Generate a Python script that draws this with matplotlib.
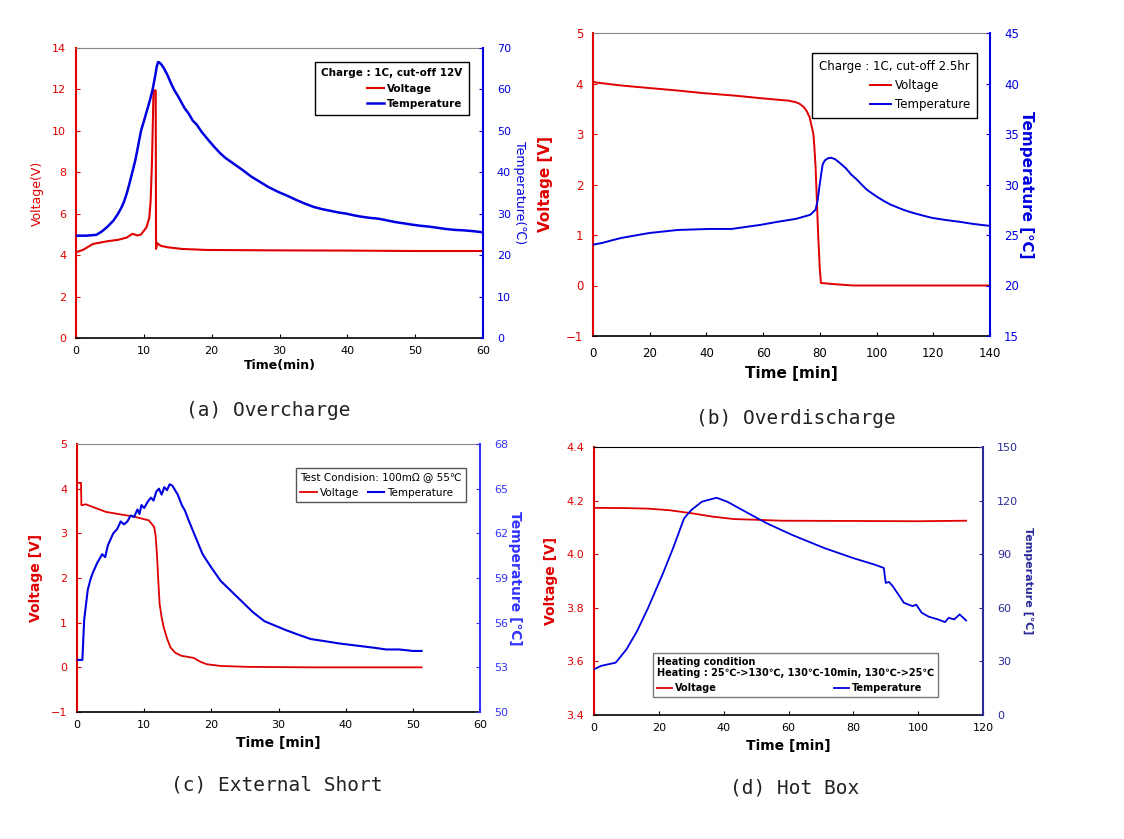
import matplotlib
matplotlib.use("Agg")
import matplotlib.pyplot as plt

# (a) Overcharge
t_a_volt = [0, 1, 2.5, 4.6, 6.2, 7.5, 8.3, 9.1, 9.6, 10.4, 10.8, 11.0, 11.2, 11.43, 11.75, 11.8, 11.95, 12.5, 13.5, 15.6, 19.3, 30, 40, 50, 60]
volt_a = [4.14, 4.25, 4.54, 4.67, 4.74, 4.85, 5.03, 4.95, 5.0, 5.35, 5.8, 6.6, 8.5, 11.95, 11.95, 4.3, 4.58, 4.45, 4.38, 4.3, 4.25, 4.23, 4.22, 4.2, 4.2]
t_a_temp = [0, 1.5, 3.0, 3.8, 4.6, 5.5, 6.2, 6.7, 7.1, 7.5, 7.9, 8.3, 8.7, 9.0, 9.3, 9.6, 10.0, 10.3, 10.6, 10.9, 11.3, 11.7, 11.9, 12.1, 12.3, 12.6, 13.0, 13.5, 14.0, 14.5, 15.1, 15.5, 16.0, 16.6, 17.2, 17.8, 18.5, 19.4, 20.4, 21.2, 22.0, 23.3, 24.6, 25.8, 27.0, 28.4, 29.9, 31.2, 32.5, 33.8, 35.1, 36.3, 37.5, 38.7, 39.9, 41.0, 42.0, 43.3, 44.6, 45.8, 47.0, 48.2, 49.4, 50.7, 52.0, 53.3, 54.6, 55.8, 57.0, 58.5, 60.0]
temp_a = [24.7, 24.7, 24.9, 25.7, 26.8, 28.3, 30.0, 31.5, 33.0, 35.0, 37.4, 40.0, 42.6, 45.0, 47.6, 50.1, 52.3, 54.0, 55.7, 57.4, 60.0, 63.5, 65.5, 66.6, 66.5, 66.0, 65.0, 63.4, 61.5, 59.8, 58.2, 57.0, 55.5, 54.2, 52.5, 51.5, 49.8, 48.0, 46.1, 44.7, 43.5, 42.0, 40.5, 39.0, 37.8, 36.4, 35.2, 34.3, 33.3, 32.4, 31.6, 31.1, 30.7, 30.3, 30.0, 29.6, 29.3, 29.0, 28.8, 28.4, 28.0, 27.7, 27.4, 27.1, 26.9, 26.6, 26.3, 26.1, 26.0, 25.8, 25.5]

# (b) Overdischarge
t_b_volt = [0, 1, 10, 19.9, 30, 38.8, 50, 59, 65, 69, 71.5, 72.8, 74.2, 75.3, 76.4, 77.2, 77.7, 78.0, 78.5, 79.0, 79.4, 80.0, 80.4, 84.2, 91.7, 110, 140]
volt_b = [4.04, 4.02, 3.96, 3.91, 3.86, 3.81, 3.76, 3.71, 3.68, 3.66, 3.63, 3.60, 3.54, 3.46, 3.33, 3.13, 3.0, 2.8, 2.34, 1.6, 1.01, 0.3, 0.05, 0.03, 0.0, 0.0, 0.0]
t_b_temp = [0, 3, 9.8, 19.9, 30, 41.3, 48.9, 59, 65, 71.6, 76.6, 78.5, 79.2, 79.8, 80.4, 81.0, 81.8, 82.9, 84.0, 85.4, 87.2, 89.2, 91.0, 93.0, 94.7, 96.5, 98.5, 100.6, 102.7, 105, 107.2, 109.4, 111.6, 114, 116.7, 119.5, 121.7, 124, 126.7, 129.5, 131.7, 134, 137, 140]
temp_b = [24.04, 24.2, 24.7, 25.2, 25.5, 25.6, 25.6, 26.0, 26.3, 26.6, 27.0, 27.5, 28.4, 29.7, 30.9, 32.0, 32.4, 32.6, 32.65, 32.5, 32.1, 31.6, 31.0, 30.5, 30.0, 29.5, 29.1, 28.7, 28.35, 28.0, 27.75, 27.5, 27.3, 27.1, 26.9, 26.7, 26.6, 26.5, 26.4, 26.3, 26.2, 26.1, 26.0, 25.9]

# (c) External Short
t_c_volt = [0, 0.6, 0.65, 1.3, 4.3, 8.6, 10.7, 11.5, 11.7, 11.9, 12.1, 12.3, 12.6, 12.9, 13.4, 13.9, 14.6, 15.5, 17.4, 18.3, 19.3, 21.4, 25.7, 35, 51.3]
volt_c = [4.13, 4.13, 3.63, 3.65, 3.48, 3.37, 3.29, 3.14, 2.95, 2.54, 1.95, 1.42, 1.12, 0.90, 0.65, 0.45, 0.33, 0.26, 0.21, 0.13, 0.07, 0.03, 0.01, 0.0, 0.0]
t_c_temp = [0, 0.8, 1.07, 1.6, 2.0, 2.4, 3.0, 3.75, 4.2, 4.6, 5.4, 6.0, 6.5, 7.0, 7.5, 8.0, 8.5, 9.0, 9.3, 9.6, 10.0, 10.5, 11.0, 11.4, 11.8, 12.2, 12.6, 13.0, 13.4, 13.8, 14.2, 14.6, 15.0, 15.6, 16.1, 16.6, 17.6, 18.7, 20.0, 21.4, 23.0, 24.6, 26.2, 27.9, 29.5, 31.1, 32.9, 34.8, 37.0, 39.1, 41.8, 44.5, 46.0, 48.0, 50.0, 51.3]
temp_c = [53.5, 53.5, 56.2, 58.2, 58.9, 59.4, 60.0, 60.6, 60.4, 61.2, 62.0, 62.3, 62.8, 62.6, 62.8, 63.2, 63.1, 63.6, 63.3, 63.9, 63.7, 64.1, 64.4, 64.2, 64.8, 65.0, 64.6, 65.1, 64.9, 65.3, 65.2, 64.9, 64.6, 63.9, 63.5, 62.9, 61.8, 60.6, 59.7, 58.8, 58.1, 57.4, 56.7, 56.1, 55.8, 55.5, 55.2, 54.9, 54.75, 54.6, 54.45, 54.3, 54.2, 54.2, 54.1, 54.1]

# (d) Hot Box
t_d_volt = [0, 10, 16.7, 23.3, 30, 36.7, 43.3, 51.1, 57.8, 80, 100, 114.8]
volt_d = [4.173, 4.172, 4.170, 4.164, 4.153, 4.140, 4.131, 4.128, 4.125, 4.124, 4.123, 4.125]
t_d_temp = [0, 2.2, 6.7, 10, 13.3, 16.7, 21.1, 24.4, 27.8, 30, 33.3, 37.8, 41.1, 46.7, 53.3, 61.1, 71.1, 80, 86.7, 89.4, 90, 91.0, 92.2, 93.9, 95.6, 98.3, 99.4, 101.1, 103.3, 106.1, 108.3, 109.4, 111.1, 112.8, 113.9, 114.8]
temp_d = [25.6, 27.5, 29.3, 36.7, 47, 60, 78.5, 93.4, 110.1, 114.7, 119.4, 121.6, 119.4, 113.8, 107.3, 100.8, 93.4, 87.8, 84.1, 82.3, 73.9, 74.5, 72.0, 67.4, 62.8, 60.9, 61.8, 57.2, 55.0, 53.5, 52.0, 54.4, 53.5, 56.3, 54.4, 52.9]

W, H = 1124, 839
fig = plt.figure(figsize=(W / 100, H / 100), dpi=100)


def make_axes(l, r, t, b):
    return fig.add_axes([l / W, 1 - b / H, (r - l) / W, (b - t) / H])


def style(ax, ax2, lcol, rcol, fs):
    ax.spines["left"].set_color(lcol)
    ax.spines["left"].set_linewidth(1.5)
    ax.spines["right"].set_visible(False)
    ax.spines["top"].set_color("#888888")
    ax.spines["bottom"].set_color("black")
    ax.spines["bottom"].set_linewidth(1.2)
    for s in ["left", "top", "bottom"]:
        ax2.spines[s].set_visible(False)
    ax2.spines["right"].set_color(rcol)
    ax2.spines["right"].set_linewidth(1.5)
    ax.tick_params(axis="y", colors=lcol, direction="in", length=3, labelsize=fs, pad=7)
    ax.tick_params(axis="x", direction="in", length=3, labelsize=fs, pad=6)
    ax2.tick_params(axis="y", colors=rcol, direction="in", length=3, labelsize=fs, pad=10)


RED = "#e00000"
BLUE = "#0000e0"
cap_font = dict(family="DejaVu Sans Mono", fontsize=14, color="#222222")

# ---- (a)
ax = make_axes(76, 483, 48, 338)
ax2 = ax.twinx()
l1, = ax.plot(t_a_volt, volt_a, color=RED, lw=1.5, label="Voltage")
l2, = ax2.plot(t_a_temp, temp_a, color=BLUE, lw=1.8, label="Temperature")
ax.set_xlim(0, 60)
ax.set_ylim(0, 14)
ax2.set_ylim(0, 70)
ax.set_xticks(range(0, 61, 10))
ax.set_yticks(range(0, 15, 2))
ax2.set_yticks(range(0, 71, 10))
style(ax, ax2, RED, BLUE, 8)
ax.set_xlabel("Time(min)", fontsize=9, fontweight="bold", labelpad=2)
ax.set_ylabel("Voltage(V)", fontsize=9, color=RED, labelpad=6)
ax2.set_ylabel("Temperature(℃)", fontsize=9, color=BLUE, rotation=270, labelpad=11)
leg = ax2.legend([l1, l2], ["Voltage", "Temperature"], title="Charge : 1C, cut-off 12V",
                 loc="upper right", bbox_to_anchor=(0.978, 0.969), fancybox=False,
                 edgecolor="black", fontsize=7.5, title_fontsize=7.5, handlelength=1.6,
                 handletextpad=0.3, borderpad=0.6, labelspacing=0.5, framealpha=1)
leg.get_title().set_fontweight("bold")
for txt in leg.get_texts():
    txt.set_fontweight("bold")
leg._legend_box.align = "right"
leg.get_frame().set_linewidth(1.0)
fig.text(268 / W, 1 - 411 / H, "(a) Overcharge", ha="center", va="center", **cap_font)

# ---- (b)
ax = make_axes(593, 990, 33, 336)
ax2 = ax.twinx()
l1, = ax.plot(t_b_volt, volt_b, color=RED, lw=1.4, label="Voltage")
l2, = ax2.plot(t_b_temp, temp_b, color=BLUE, lw=1.4, label="Temperature")
ax.set_xlim(0, 140)
ax.set_ylim(-1, 5)
ax2.set_ylim(15, 45)
ax.set_xticks(range(0, 141, 20))
ax.set_yticks(range(-1, 6))
ax2.set_yticks(range(15, 46, 5))
style(ax, ax2, RED, BLUE, 8.5)
ax.tick_params(axis="x", pad=8)
ax.set_xlabel("Time [min]", fontsize=11, fontweight="bold", labelpad=4)
ax.set_ylabel("Voltage [V]", fontsize=11, fontweight="bold", color=RED, labelpad=9)
ax2.set_ylabel("Temperature [℃]", fontsize=11, fontweight="bold", color=BLUE, rotation=270, labelpad=11)
leg = ax2.legend([l1, l2], ["Voltage", "Temperature"], title="Charge : 1C, cut-off 2.5hr",
                 loc="upper right", bbox_to_anchor=(0.982, 0.954), fancybox=False,
                 edgecolor="black", fontsize=8.5, title_fontsize=8.5, handlelength=1.8,
                 handletextpad=0.3, borderpad=0.6, labelspacing=0.5, framealpha=1)
leg._legend_box.align = "right"
leg.get_frame().set_linewidth(1.0)
fig.text(796 / W, 1 - 418 / H, "(b) Overdischarge", ha="center", va="center", **cap_font)

# ---- (c)
ax = make_axes(77, 480, 444, 712)
ax2 = ax.twinx()
l1, = ax.plot(t_c_volt, volt_c, color=RED, lw=1.3, label="Voltage")
l2, = ax2.plot(t_c_temp, temp_c, color=BLUE, lw=1.5, label="Temperature")
ax.set_xlim(0, 60)
ax.set_ylim(-1, 5)
ax2.set_ylim(50, 68)
ax.set_xticks(range(0, 61, 10))
ax.set_yticks(range(-1, 6))
ax2.set_yticks(range(50, 69, 3))
style(ax, ax2, RED, "#3333ff", 8)
ax.set_xlabel("Time [min]", fontsize=10, fontweight="bold", labelpad=4)
ax.set_ylabel("Voltage [V]", fontsize=10, fontweight="bold", color=RED, labelpad=6)
ax2.set_ylabel("Temperature [℃]", fontsize=10, fontweight="bold", color="#3333ff", rotation=270, labelpad=10)
leg = ax2.legend([l1, l2], ["Voltage", "Temperature"], title="Test Condision: 100mΩ @ 55℃",
                 loc="upper right", bbox_to_anchor=(0.978, 0.929), fancybox=False,
                 edgecolor="#555555", fontsize=7.5, title_fontsize=7.5, ncol=2,
                 handlelength=1.6, handletextpad=0.3, columnspacing=0.8, borderpad=0.4,
                 framealpha=1)
leg._legend_box.align = "left"
fig.text(277 / W, 1 - 785 / H, "(c) External Short", ha="center", va="center", **cap_font)

# ---- (d)
NAVY = "#2a2a99"
ax = make_axes(594, 983, 447, 715)
ax2 = ax.twinx()
l1, = ax.plot(t_d_volt, volt_d, color=RED, lw=1.3, label="Voltage")
l2, = ax2.plot(t_d_temp, temp_d, color=BLUE, lw=1.3, label="Temperature")
ax.set_xlim(0, 120)
ax.set_ylim(3.4, 4.4)
ax2.set_ylim(0, 150)
ax.set_xticks(range(0, 121, 20))
ax.set_yticks([3.4, 3.6, 3.8, 4.0, 4.2, 4.4])
ax.set_yticklabels(["3.4", "3.6", "3.8", "4.0", "4.2", "4.4"])
ax2.set_yticks(range(0, 151, 30))
style(ax, ax2, RED, NAVY, 8)
ax.spines["top"].set_color("black")
ax.set_xlabel("Time [min]", fontsize=10, fontweight="bold", labelpad=4)
ax.set_ylabel("Voltage [V]", fontsize=10, fontweight="bold", color=RED, labelpad=6)
ax2.set_ylabel("Temperature [℃]", fontsize=8, fontweight="bold", color=NAVY, rotation=270, labelpad=11)
leg = ax2.legend([l1, l2], ["Voltage", "Temperature"],
                 title="Heating condition\nHeating : 25℃->130℃, 130℃-10min, 130℃->25℃",
                 loc="lower center", bbox_to_anchor=(0.517, 0.049), fancybox=False,
                 edgecolor="#777777", fontsize=7, title_fontsize=7, ncol=2,
                 handlelength=1.6, handletextpad=0.3, columnspacing=12, borderpad=0.4,
                 framealpha=1)
leg._legend_box.align = "left"
leg.get_title().set_fontweight("bold")
for txt in leg.get_texts():
    txt.set_fontweight("bold")
fig.text(795 / W, 1 - 788 / H, "(d) Hot Box", ha="center", va="center", **cap_font)

fig.savefig("out.png", dpi=100)
